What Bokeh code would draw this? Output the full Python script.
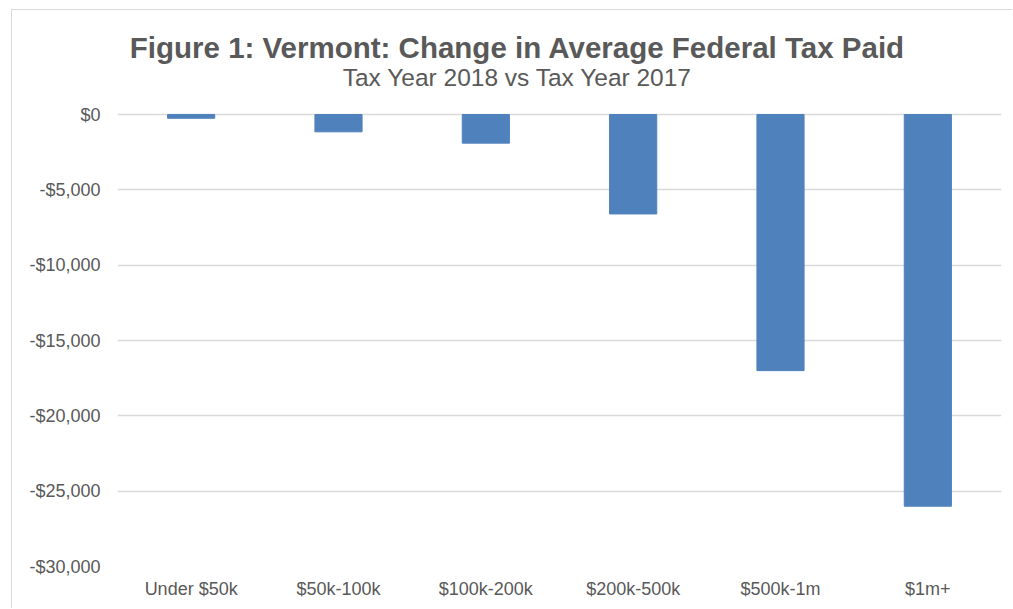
from bokeh.plotting import figure
from bokeh.models import Range1d, Label, FixedTicker, CustomJSTickFormatter
from bokeh.embed import file_html
from bokeh.resources import INLINE

categories = ["Under $50k", "$50k-100k", "$100k-200k", "$200k-500k", "$500k-1m", "$1m+"]
change = [-250, -1150, -1900, -6600, -17000, -26000]
y_ticks = [0, -5000, -10000, -15000, -20000, -25000, -30000]

TEXT = "#595959"
FONT = "Liberation Sans"

# frame spans the whole height above the axis; headroom above $0 holds the titles
p = figure(x_range=categories, y_range=Range1d(-30000, 6903),
           width=1001, height=599, output_backend="svg", toolbar_location=None,
           min_border_left=105, min_border_right=12, min_border_top=0, min_border_bottom=43)
p.styles = {"margin-left": "11px", "margin-top": "9px",
            "border-left": "1px solid #d9d9d9", "border-top": "1px solid #d9d9d9"}

p.vbar(x=categories, top=change, bottom=0, width=0.32, color="#4F81BD")

p.outline_line_color = None
p.xgrid.grid_line_color = None
p.ygrid.grid_line_color = "#d9d9d9"
p.ygrid.grid_line_width = 1.5

p.yaxis.ticker = FixedTicker(ticks=y_ticks)
p.yaxis.formatter = CustomJSTickFormatter(code="""
const a = Math.abs(tick).toLocaleString('en-US');
return (tick < 0 ? '-$' : '$') + a;
""")
for ax in (p.xaxis[0], p.yaxis[0]):
    ax.axis_line_color = None
    ax.major_tick_line_color = None
    ax.minor_tick_line_color = None
    ax.major_tick_out = 0
    ax.major_tick_in = 0
    ax.major_label_text_color = TEXT
    ax.major_label_text_font = FONT
    ax.major_label_text_font_size = "18px"
p.yaxis.major_label_standoff = 17
p.xaxis.major_label_standoff = 12

p.add_layout(Label(x=2.715, y=4450,
                   text="Figure 1: Vermont: Change in Average Federal Tax Paid",
                   text_align="center", text_baseline="alphabetic",
                   text_font=FONT, text_font_style="bold", text_font_size="29.5px",
                   text_color=TEXT))
p.add_layout(Label(x=2.715, y=2450,
                   text="Tax Year 2018 vs Tax Year 2017",
                   text_align="center", text_baseline="alphabetic",
                   text_font=FONT, text_font_size="24.5px", text_color=TEXT))

open("out.html", "w").write(file_html(p, INLINE))
